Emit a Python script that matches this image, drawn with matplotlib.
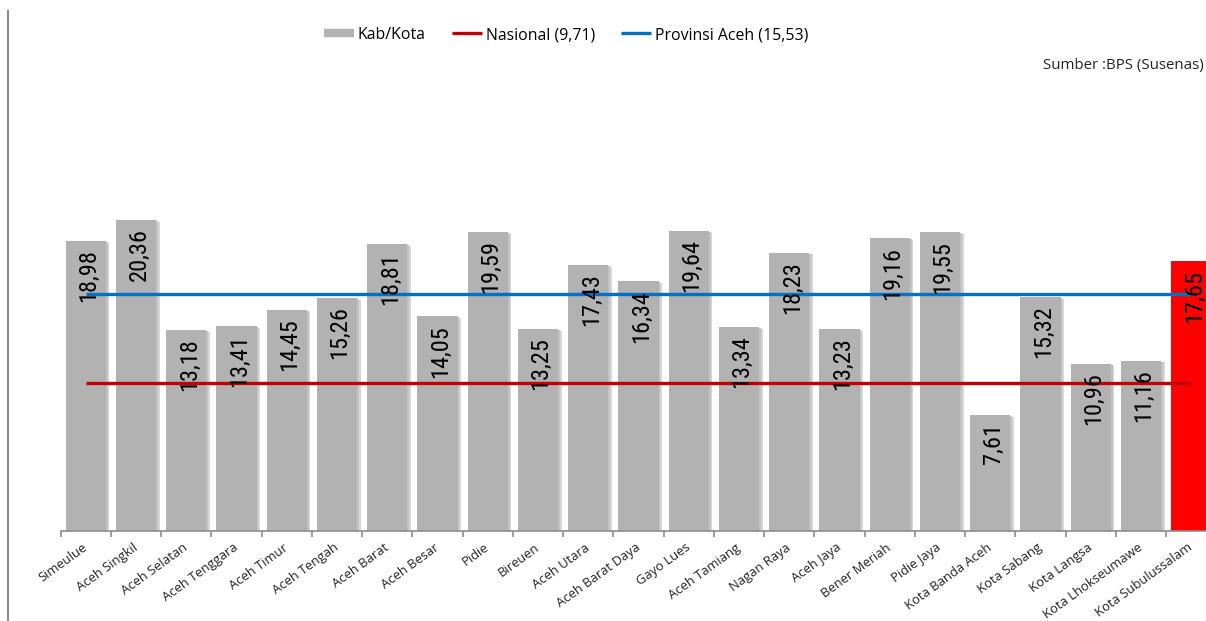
import matplotlib
matplotlib.use("Agg")
import matplotlib.pyplot as plt
from matplotlib.lines import Line2D

categories = ["Simeulue", "Aceh Singkil", "Aceh Selatan", "Aceh Tenggara", "Aceh Timur",
              "Aceh Tengah", "Aceh Barat", "Aceh Besar", "Pidie", "Bireuen", "Aceh Utara",
              "Aceh Barat Daya", "Gayo Lues", "Aceh Tamiang", "Nagan Raya", "Aceh Jaya",
              "Bener Meriah", "Pidie Jaya", "Kota Banda Aceh", "Kota Sabang", "Kota Langsa",
              "Kota Lhokseumawe", "Kota Subulussalam"]
values = [18.98, 20.36, 13.18, 13.41, 14.45, 15.26, 18.81, 14.05, 19.59, 13.25, 17.43,
          16.34, 19.64, 13.34, 18.23, 13.23, 19.16, 19.55, 7.61, 15.32, 10.96, 11.16, 17.65]
nasional = 9.71
provinsi = 15.53
highlight = "Kota Subulussalam"

plt.rcParams['font.family'] = ['Open Sans', 'DejaVu Sans']

W, H = 1206, 621
fig = plt.figure(figsize=(W / 100, H / 100), dpi=100)
ax = fig.add_axes([60.7 / W, 90 / H, 1155.75 / W, 381.75 / H])

x = list(range(len(categories)))
gray = '#b2b2b2'
colors = ['#ff0000' if c == highlight else gray for c in categories]

# soft shadows
for xi, v, c in zip(x, values, categories):
    if c != highlight:
        ax.bar(xi + 0.07, v - 0.12, width=0.8, color='#d6d6d6', zorder=1, linewidth=0)
        ax.bar(xi + 0.035, v - 0.06, width=0.8, color='#c2c2c2', zorder=1.5, linewidth=0)
ax.bar(x, values, width=0.8, color=colors, zorder=2, linewidth=0)

ax.plot([x[0], x[-1]], [nasional, nasional], color='#c00000', lw=2.4, zorder=3,
        solid_capstyle='butt')
ax.plot([x[0], x[-1]], [provinsi, provinsi], color='#0070c0', lw=2.4, zorder=3,
        solid_capstyle='butt')

for xi, v in zip(x, values):
    ax.annotate(f"{v:.2f}".replace('.', ','), xy=(xi, v), xytext=(2, -6),
                textcoords='offset points', rotation=90, ha='center', va='top',
                fontsize=17.6, color='black', zorder=5, fontstretch='condensed',
                family=['Roboto Condensed', 'Liberation Sans Narrow', 'Noto Sans', 'DejaVu Sans'])

ax.set_xlim(-0.5, len(categories) - 0.5)
ax.set_ylim(0, 25)
for s in ['top', 'right', 'left']:
    ax.spines[s].set_visible(False)
ax.spines['bottom'].set_color('#8c8c8c')
ax.spines['bottom'].set_linewidth(1.2)
ax.set_yticks([])

ax.set_xticks(x)
ax.set_xticklabels(categories, rotation=36, ha='right', va='center',
                   rotation_mode='anchor', fontsize=9.4, color='#222222')
ax.tick_params(axis='x', which='major', length=0, pad=11)
ax.set_xticks([i - 0.5 for i in range(len(categories) + 1)], minor=True)
ax.tick_params(axis='x', which='minor', length=4, width=1.2, color='#8c8c8c', direction='out')

handles = [Line2D([], [], color=gray, lw=6, solid_capstyle='butt'),
           Line2D([], [], color='#c00000', lw=2.4, solid_capstyle='butt'),
           Line2D([], [], color='#0070c0', lw=2.4, solid_capstyle='butt')]
labels = ['Kab/Kota', 'Nasional (9,71)', 'Provinsi Aceh (15,53)']
fig.legend(handles, labels, loc='center', bbox_to_anchor=(566 / W, 1 - 35 / H), ncol=3,
           frameon=False, fontsize=11.4, handlelength=1.9, handletextpad=0.25,
           columnspacing=1.65)

fig.text(1204 / W, 1 - 65 / H, 'Sumber :BPS (Susenas)', ha='right', va='center',
         fontsize=10.8, color='#222222')

fig.add_artist(Line2D([8 / W, 8 / W], [0, 1 - 11 / H], transform=fig.transFigure,
                      color='#8c8c8c', lw=1.5))

fig.savefig('out.png', dpi=100)
